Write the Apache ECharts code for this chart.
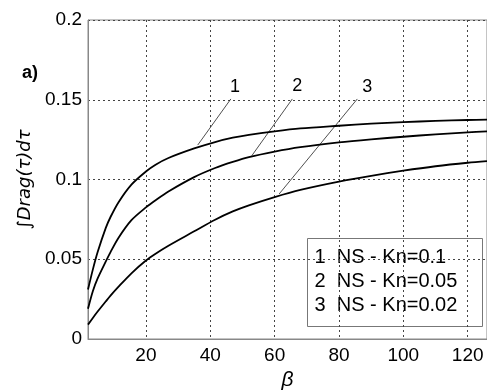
<!DOCTYPE html>
<html>
<head>
<meta charset="utf-8">
<script src="https://cdn.jsdelivr.net/npm/echarts@6/dist/echarts.min.js"></script>
<style>html,body{margin:0;padding:0;background:#fff}#c{width:487px;height:390px}</style>
</head>
<body>
<div id="c"></div>
<script>
// beta values
var beta = [2, 3.5, 5, 7.5, 9, 11.5, 15.5, 20, 23, 27, 35, 41.5, 47, 52, 60, 68, 80, 90, 100, 110, 120, 126];
// series 1: NS - Kn=0.1
var kn01  = [0.031, 0.0435, 0.0545, 0.0695, 0.0765, 0.0858, 0.0968, 0.1050, 0.1093, 0.1135, 0.1195, 0.1235, 0.1262, 0.1280, 0.1302, 0.1320, 0.1337, 0.1350, 0.1360, 0.1367, 0.1373, 0.1376];
// series 2: NS - Kn=0.05
var kn005 = [0.019, 0.030, 0.038, 0.0485, 0.0545, 0.0635, 0.0745, 0.0825, 0.087, 0.0925, 0.1015, 0.1072, 0.1110, 0.1140, 0.1175, 0.1203, 0.1233, 0.1252, 0.1268, 0.1283, 0.1295, 0.1302];
// series 3: NS - Kn=0.02
var kn002 = [0.009, 0.0132, 0.0172, 0.0235, 0.0272, 0.0328, 0.0412, 0.0492, 0.0535, 0.0585, 0.0675, 0.0748, 0.0800, 0.0838, 0.0890, 0.0935, 0.0987, 0.1023, 0.1055, 0.1083, 0.1105, 0.1115];
var seriesNames = ['1  NS - Kn=0.1', '2  NS - Kn=0.05', '3  NS - Kn=0.02'];
var curveTags = ['1', '2', '3'];
// leader lines: [point on curve, top end] and tag positions (data units)
var leaderLines = [
  [[36.1, 0.1216], [46.4, 0.1505]],
  [[52.9, 0.1149], [65.5, 0.1505]],
  [[61.4, 0.0909], [85.7, 0.1505]]
];
var tagPos = [[47.7, 0.158], [67.0, 0.1586], [88.8, 0.158]];
var xTicks = [20, 40, 60, 80, 100, 120];
var xMin = 2, xMax = 126, yMin = 0, yMax = 0.2, yStep = 0.05;

var chart = echarts.init(document.getElementById('c'), null, {renderer: 'canvas'});
var FONT = 'Liberation Sans, Arial, sans-serif';
var allData = [kn01, kn005, kn002];
var series = allData.map(function (vals, i) {
  return {
    name: seriesNames[i],
    type: 'line',
    data: beta.map(function (b, j) { return [b, vals[j]]; }),
    smooth: 0.3,
    showSymbol: false,
    symbol: 'none',
    lineStyle: {color: '#000', width: 1.8},
    z: 5,
    markLine: {
      silent: true,
      symbol: ['none', 'none'],
      animation: false,
      label: {show: false},
      lineStyle: {color: '#222', width: 0.8, type: 'solid'},
      data: [[{coord: leaderLines[i][0]}, {coord: leaderLines[i][1]}]]
    },
    markPoint: {
      silent: true,
      animation: false,
      symbol: 'circle',
      symbolSize: 0,
      label: {show: true, formatter: curveTags[i], color: '#000', fontSize: 18, fontFamily: FONT},
      data: [{coord: tagPos[i]}]
    }
  };
});

chart.setOption({
  animation: false,
  backgroundColor: '#fff',
  grid: {left: 88, top: 20, right: 0, bottom: 51, outerBoundsMode: 'none', containLabel: false,
         show: true, borderColor: '#888', borderWidth: 1, backgroundColor: 'transparent'},
  xAxis: {
    type: 'value', min: xMin, max: xMax,
    name: 'β', nameLocation: 'middle', nameGap: 29,
    nameTextStyle: {fontSize: 21, fontStyle: 'italic', fontFamily: FONT, color: '#000'},
    axisLine: {show: true, lineStyle: {color: '#888', width: 1}},
    axisTick: {show: false, customValues: xTicks},
    axisLabel: {customValues: xTicks, color: '#000', fontSize: 19, fontFamily: FONT, margin: 7},
    splitLine: {show: true, lineStyle: {color: '#444', width: 1, type: [2, 3]}}
  },
  yAxis: {
    type: 'value', min: yMin, max: yMax, interval: yStep,
    name: '∫Drag(τ)dτ', nameLocation: 'middle', nameGap: 50, nameRotate: 90,
    nameTextStyle: {fontSize: 18, fontStyle: 'italic', fontFamily: 'DejaVu Sans, sans-serif', color: '#000'},
    axisLine: {show: true, lineStyle: {color: '#888', width: 1}},
    axisTick: {show: false},
    axisLabel: {color: '#000', fontSize: 19, fontFamily: FONT, margin: 6},
    splitLine: {show: true, lineStyle: {color: '#444', width: 1, type: [2, 3]}}
  },
  graphic: [
    {type: 'text', left: 22, top: 64, style: {text: 'a)', font: 'bold 18px ' + FONT, fill: '#000'}},
    {type: 'group', left: 307, top: 238, z: 100, children: [
      {type: 'rect', shape: {x: 0, y: 0, width: 175, height: 88}, style: {fill: '#fff', stroke: '#777', lineWidth: 1}},
      {type: 'text', x: 7, y: 19, style: {text: seriesNames[0], font: '20px ' + FONT, fill: '#000', textVerticalAlign: 'middle'}},
      {type: 'text', x: 7, y: 43, style: {text: seriesNames[1], font: '20px ' + FONT, fill: '#000', textVerticalAlign: 'middle'}},
      {type: 'text', x: 7, y: 67, style: {text: seriesNames[2], font: '20px ' + FONT, fill: '#000', textVerticalAlign: 'middle'}}
    ]}
  ],
  series: series
});
</script>
</body>
</html>
